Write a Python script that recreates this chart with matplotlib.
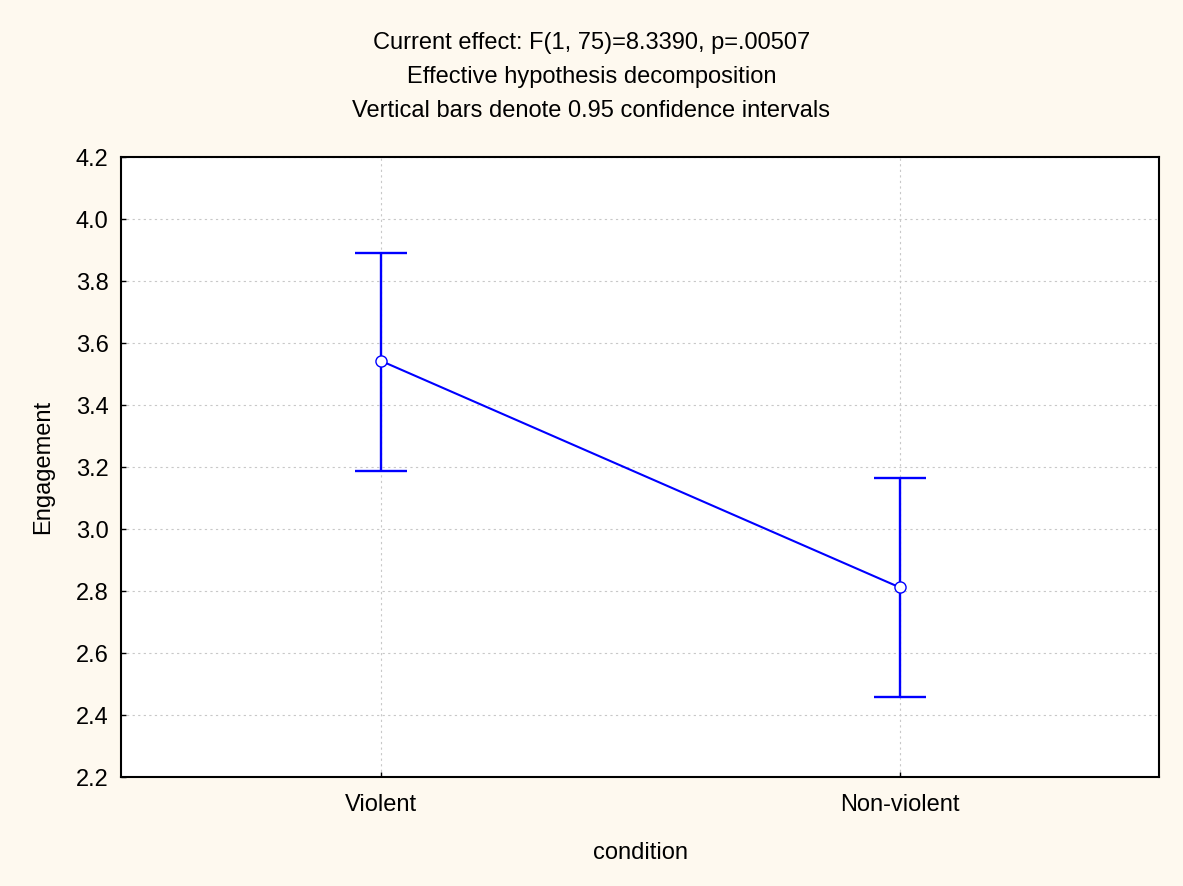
import numpy as np
import matplotlib.pyplot as plt

plt.rcParams['font.family'] = ['Liberation Sans', 'DejaVu Sans']

conditions = ['Violent', 'Non-violent']
means = [3.543, 2.812]
ci_low = [3.186, 2.458]
ci_high = [3.891, 3.163]
yticks = [2.2, 2.4, 2.6, 2.8, 3.0, 3.2, 3.4, 3.6, 3.8, 4.0, 4.2]
title_lines = ['Current effect: F(1, 75)=8.3390, p=.00507',
               'Effective hypothesis decomposition',
               'Vertical bars denote 0.95 confidence intervals']

bg = '#fef9ef'
blue = '#0000ff'
fs = 17

fig = plt.figure(figsize=(11.83, 8.86), dpi=100, facecolor=bg)
ax = fig.add_axes([121/1183, 1 - 777/886, (1159 - 121)/1183, (777 - 157)/886])
ax.set_facecolor('white')

x = np.arange(len(conditions))
m = np.array(means)
err = np.array([m - np.array(ci_low), np.array(ci_high) - m])

# confidence bars, then the mean line with open circles on top
ax.errorbar(x, m, yerr=err, fmt='none', ecolor=blue, elinewidth=1.7,
            capsize=19, capthick=1.7, zorder=3)
ax.plot(x, m, color=blue, lw=1.5, marker='o', ms=8, mfc='white',
        mec=blue, mew=1, zorder=4)

ax.set_xlim(-0.5, 1.5)
ax.set_ylim(2.2, 4.2)
ax.set_xticks(x)
ax.set_xticklabels(conditions)
ax.set_yticks(yticks)
ax.set_yticklabels([f'{v:.1f}' for v in yticks])
ax.grid(True, color='#c8c8c8', ls=(0, (2, 3)), lw=0.8)
ax.tick_params(labelsize=fs, direction='in', length=3.5, width=1, color='black', pad=9)
ax.tick_params(axis='x', pad=12)
for s in ax.spines.values():
    s.set_linewidth(1.5)

ax.set_xlabel('condition', fontsize=fs)
ax.set_ylabel('Engagement', fontsize=fs)
ax.xaxis.set_label_coords(0.5, 1 - (853 - 157)/(777 - 157), transform=ax.transAxes)
ax.xaxis.label.set_va('center')
ax.yaxis.set_label_coords((43 - 121)/(1159 - 121), 0.5, transform=ax.transAxes)
ax.yaxis.label.set_va('center')

for i, line in enumerate(title_lines):
    fig.text(0.5, 1 - (43 + 34*i)/886, line, ha='center', va='center', fontsize=fs)

fig.savefig('out.png', dpi=100, facecolor=bg)
